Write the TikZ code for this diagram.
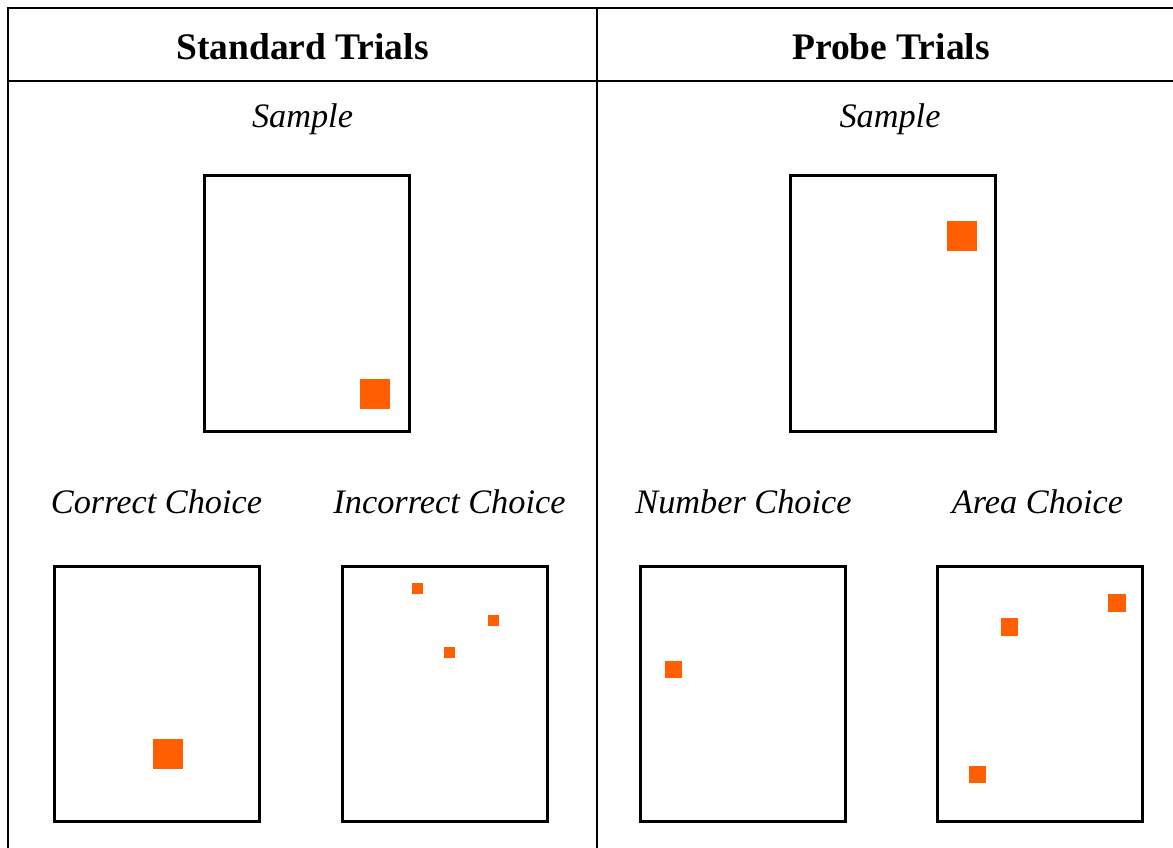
\documentclass[tikz,border=0pt]{standalone}
\usepackage{fontspec}
\setmainfont{Liberation Serif}
\definecolor{dot}{HTML}{FF5F00}
\begin{document}
\begin{tikzpicture}[x=1pt,y=-1pt,
  frame/.style={draw=black,line width=3pt},
  rule/.style={draw=black,line width=1.6pt},
  dotsq/.style={fill=dot},
  head/.style={font=\fontsize{37.5}{40}\selectfont\bfseries,anchor=base},
  lab/.style={font=\fontsize{34.3}{38}\selectfont\itshape,anchor=base}]
\useasboundingbox (0,0) rectangle (1173,848);
% table rules
\draw[rule] (8,848) -- (8,8) -- (1180,8);
\draw[rule] (8,81) -- (1180,81);
\draw[rule] (597,8) -- (597,848);
% headers
\node[head] (hs) at (302.5,60) {Standard Trials};
\node[head] (hp) at (891,60) {Probe Trials};
% labels
\node[lab] (ls) at (302.5,128) {Sample};
\node[lab] (lp) at (890,128) {Sample};
\node[lab] (lc) at (156.5,513) {Correct Choice};
\node[lab] (li) at (449.5,513) {Incorrect Choice};
\node[lab] (ln) at (743.5,513) {Number Choice};
\node[lab] (la) at (1037.5,513) {Area Choice};
% boxes
\draw[frame] (204,176) rectangle (409,431);
\draw[frame] (790,176) rectangle (995,431);
\draw[frame] (54,566) rectangle (259,821);
\draw[frame] (342,566) rectangle (547,821);
\draw[frame] (640,566) rectangle (845,821);
\draw[frame] (937,566) rectangle (1142,821);
% squares
\fill[dotsq] (360,379) rectangle (390,409);
\fill[dotsq] (947,221) rectangle (977,251);
\fill[dotsq] (153,739) rectangle (183,769);
\fill[dotsq] (412,583) rectangle (423,594);
\fill[dotsq] (488,615) rectangle (499,626);
\fill[dotsq] (444,647) rectangle (455,658);
\fill[dotsq] (665,661) rectangle (682,678);
\fill[dotsq] (1108,594) rectangle (1126,612);
\fill[dotsq] (1001,618) rectangle (1018,636);
\fill[dotsq] (969,766) rectangle (986,783);
\end{tikzpicture}
\end{document}
